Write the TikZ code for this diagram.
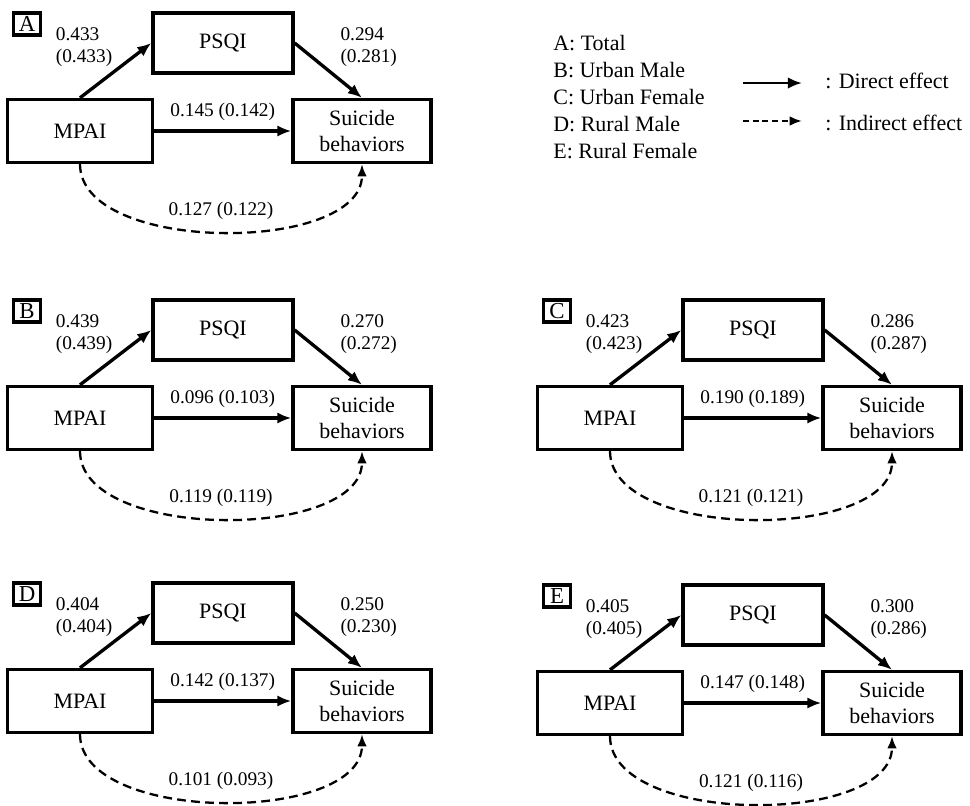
\documentclass[tikz,border=0pt]{standalone}
\usepackage{fontspec}
\setmainfont{Liberation Serif}
\usepackage{tikz}
\usetikzlibrary{arrows.meta, positioning}

\begin{document}
\begin{tikzpicture}[x=0.02cm, y=-0.02cm,
    box/.style={draw, line width=1.9pt, align=center, inner sep=2pt, font=\fontsize{12.5}{15.3}\selectfont},
    psqi/.style={box, minimum width=2.8cm, minimum height=1.2cm},
    mpai/.style={box, minimum width=2.9cm, minimum height=1.26cm},
    suic/.style={box, minimum width=2.76cm, minimum height=1.26cm},
    tag/.style={draw, line width=1.8pt, minimum width=0.54cm, minimum height=0.44cm, inner sep=0pt, font=\fontsize{13}{13}\selectfont},
    coef/.style={font=\fontsize{11}{12.5}\selectfont, align=left, inner sep=1pt},
    direct/.style={-{Latex[length=8pt, width=6.5pt]}, line width=1.9pt},
    indirect/.style={-{Latex[length=7pt, width=5.5pt]}, line width=1.3pt, dash pattern=on 5pt off 3pt},
    keytext/.style={font=\fontsize{12.5}{15.3}\selectfont, align=left, inner sep=0pt}
]
\useasboundingbox (0,0) rectangle (970,805);

% one mediation panel per group
\foreach \id/\px/\py/\va/\vb/\vc/\vd/\ve/\vf/\vg/\vh in {
    A/0/0/0.433/0.433/0.294/0.281/0.145/0.142/0.127/0.122,
    B/0/287/0.439/0.439/0.270/0.272/0.096/0.103/0.119/0.119,
    C/530/287/0.423/0.423/0.286/0.287/0.190/0.189/0.121/0.121,
    D/0/570/0.404/0.404/0.250/0.230/0.142/0.137/0.101/0.093,
    E/530/572/0.405/0.405/0.300/0.286/0.147/0.148/0.121/0.116} {
    \begin{scope}[shift={(\px,\py)}]
        \node[tag] (\id-tag) at (27,24) {\id};
        \node[psqi] (\id-psqi) at (223,43) {PSQI};
        \node[mpai] (\id-mpai) at (80,131) {MPAI};
        \node[suic] (\id-suic) at (362,131) {Suicide\\behaviors};
        % paths
        \draw[direct] (\id-mpai.north) -- node[coef, above left] {\va\\(\vb)} (\id-psqi.west);
        \draw[direct] (\id-psqi.east) -- node[coef, above right, xshift=5pt] {\vc\\(\vd)} (\id-suic.north);
        \draw[direct] (\id-mpai.east) -- node[coef, above=4pt] {\ve\ (\vf)} (\id-suic.west);
        \draw[indirect] (\id-mpai.south) .. controls +(0,90) and +(0,90) .. node[coef, above=5pt] {\vg\ (\vh)} (\id-suic.south);
    \end{scope}
}

% legend
\node[keytext, anchor=west] (groups) at (553,97) {A: Total\\B: Urban Male\\C: Urban Female\\D: Rural Male\\E: Rural Female};
\coordinate (dir-s) at (743,83);
\coordinate (dir-e) at (802,83);
\coordinate (ind-s) at (743,121);
\coordinate (ind-e) at (802,121);
\draw[direct, line width=1.4pt] (dir-s) -- (dir-e);
\draw[indirect, dash pattern=on 3.5pt off 2pt] (ind-s) -- (ind-e);
\node[keytext, anchor=west] (dir-text) at (825,81) {: Direct effect};
\node[keytext, anchor=west] (ind-text) at (825,123) {: Indirect effect};
\end{tikzpicture}
\end{document}
